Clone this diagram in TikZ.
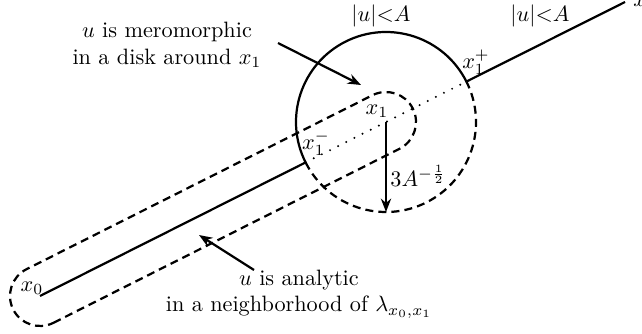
\documentclass[tikz,border=0pt]{standalone}
\usepackage{amsmath}
\usepackage{tikz}
\usetikzlibrary{arrows.meta, calc}
\tikzstyle{bound} = [line width=1pt]
\tikzstyle{nbhd}  = [line width=1pt, dash pattern=on 3.6pt off 2.3pt]
\tikzstyle{gap}   = [line width=1pt, dash pattern=on 0pt off 4.1pt, line cap=round]
\tikzstyle{arrow} = [line width=1pt,->,>={Stealth[length=6pt,width=4.6pt]}]
\tikzstyle{note}  = [align=center, inner sep=0pt]

\begin{document}
\begin{tikzpicture}[x=0.45pt, y=0.45pt]

    \useasboundingbox (0,0) rectangle (642,333);

    % ===============================
    % 1. POINTS
    % ===============================
    \coordinate (x0) at (40, 37);
    \coordinate (x1) at (386, 211);
    \coordinate (x2) at (625, 331);
    \coordinate (x1m) at ($(x1)+(206.7:90)$);
    \coordinate (x1p) at ($(x1)+(26.7:90)$);
    \coordinate (rbot) at ($(x1)+(0,-90)$);

    % ===============================
    % 2. DISK AND NEIGHBORHOOD
    % ===============================

    % disk of radius 3A^{-1/2} around x1
    \draw[bound] (x1p) arc[start angle=26.7, end angle=206.7, radius=90];
    \draw[nbhd] (x1m) arc[start angle=206.7, end angle=386.7, radius=90];

    % neighborhood of the segment
    \draw[nbhd] ($(x0)+(-63.3:30)$) -- ($(x1)+(-63.3:30)$)
        arc[start angle=-63.3, end angle=116.7, radius=30]
        -- ($(x0)+(116.7:30)$)
        arc[start angle=116.7, end angle=296.7, radius=30] -- cycle;

    % the path
    \draw[bound] (x0) -- (x1m);
    \draw[gap] (x1m) -- (x1p);
    \draw[bound] (x1p) -- (x2);

    % radius
    \draw[arrow] (x1) -- (rbot);

    % ===============================
    % 3. LABELS
    % ===============================
    \node (lx0) at (32, 45) {$x_0$};
    \node (lx1) at (377, 222) {$x_1$};
    \node (lx1m) at (316, 190) {$x_1^-$};
    \node (lx1p) at (476, 271) {$x_1^+$};
    \node[anchor=base west, inner sep=0pt] (lx2) at (633, 326) {$x_2$};
    \node[anchor=west, inner sep=0pt] (lrad) at (390, 157) {$3A^{-\frac{1}{2}}$};
    \node (lbd1) at (381, 317) {$|u|{<}A$};
    \node (lbd2) at (540, 317) {$|u|{<}A$};

    % Remarks
    \node[note] (mero) at (167, 288) {
        $u$ is meromorphic\\ in a disk around $x_1$
    };
    \node[note] (ana) at (299, 39) {
        $u$ is analytic\\ in a neighborhood of $\lambda_{x_0,x_1}$
    };

    % ===============================
    % 4. ARROWS
    % ===============================
    \coordinate (meroTail) at (278, 290);
    \coordinate (meroTip) at (361, 248);
    \coordinate (anaTail) at (254, 63);
    \coordinate (anaTip) at (199, 98);
    \draw[arrow] (meroTail) -- (meroTip);
    \draw[arrow] (anaTail) -- (anaTip);

\end{tikzpicture}
\end{document}
